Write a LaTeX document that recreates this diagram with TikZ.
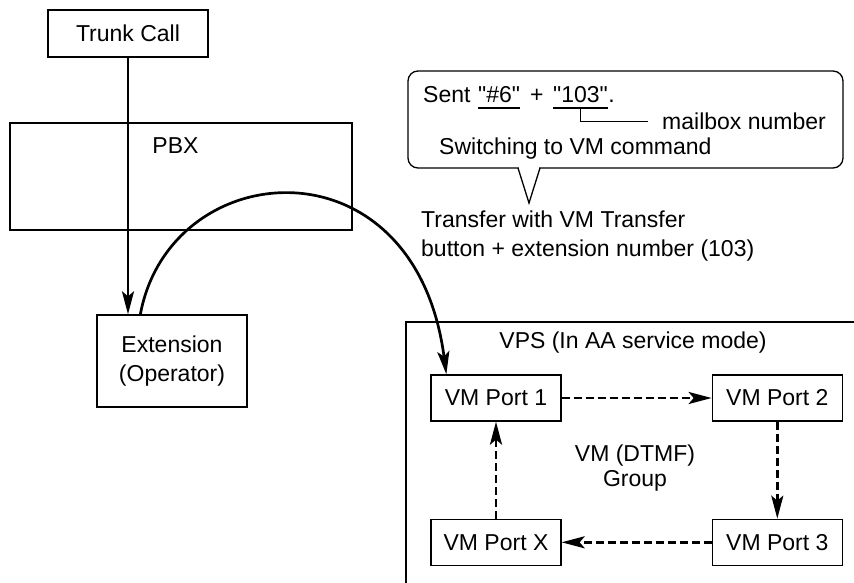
\documentclass[tikz,border=0pt]{standalone}
\usepackage{fontspec}
\setmainfont{Liberation Sans}
\usetikzlibrary{arrows.meta, positioning, calc}

\begin{document}
\begin{tikzpicture}[x=1pt, y=-1pt, font=\fontsize{23}{29}\selectfont,
        >={Stealth[length=23pt, width=12pt, inset=5pt]},
        box/.style={draw, line width=1.3pt, minimum width=130pt, minimum height=46pt,
            inner sep=0pt, align=center},
        lbl/.style={inner sep=0pt},
        txt/.style={inner sep=0pt, anchor=base west},
        thin/.style={line width=1.3pt},
        flow/.style={->, line width=2.7pt},
        ring/.style={->, line width=2.7pt, dash pattern=on 8pt off 4pt}]
    \useasboundingbox (0,0) rectangle (854,583);
    \clip (0,0) rectangle (854,583);

    % call path on the PBX side
    \node[box, minimum width=160pt, minimum height=47pt] (trunk) at (128,33.5) {Trunk Call};
    \node[box, minimum width=342pt, minimum height=107pt] (pbx) at (181,176.5) {};
    \node[lbl] (pbxlbl) at (175.5,146) {PBX};
    \node[box, minimum width=150pt, minimum height=92pt] (ext) at (172,361) {Extension\\(Operator)};

    % VPS frame and its ports
    \draw[thin] (406,600) |- (870,322);
    \node[lbl] (vps) at (633,343) {VPS (In AA service mode)};
    \node[box] (vm1) at (496,398) {VM Port 1};
    \node[box, right=150pt of vm1] (vm2) {VM Port 2};
    \node[box, below=97pt of vm2] (vm3) {VM Port 3};
    \node[box, below=97pt of vm1] (vmx) {VM Port X};
    \node[lbl, align=center] (grp) at (635,468) {VM (DTMF)\\[-4pt]Group};

    % callout
    \draw[thin, rounded corners=10pt] (408,71) rectangle (843,168);
    \fill[white] (518.7,165) rectangle (539.3,171);
    \coordinate (tip) at (529,203);
    \draw[thin] (518,168) -- (tip) -- (540,168);
    \node[txt] (sent) at (423,103) {Sent};
    \node[txt] (cmd) at (478,103) {\textquotedbl\#6\textquotedbl};
    \node[txt] (plus) at (530,103) {+};
    \node[txt] (mbx) at (553,103) {\textquotedbl103\textquotedbl};
    \node[txt] (stop) at (mbx.base east) {.};
    \node[txt] (mbox) at (662,130) {mailbox number};
    \node[txt] (sw) at (439,155) {Switching to VM command};
    \node[lbl, anchor=north west, align=left] (xfer) at (421,211)
        {Transfer with VM Transfer\\button + extension number (103)};

    \coordinate (cmdL) at ($(cmd.base west)+(0,5)$);
    \coordinate (cmdR) at ($(cmd.base east)+(0,5)$);
    \coordinate (mbxL) at ($(mbx.base west)+(0,5)$);
    \coordinate (mbxR) at ($(mbx.base east)+(0,5)$);
    \draw[thin] (cmdL) -- (cmdR);
    \draw[thin] (mbxL) -- (mbxR);
    \draw[thin] ($(cmdL)!0.5!(cmdR)$) -- ($(cmdL)!0.5!(cmdR)$ |- sw.north);
    \draw[thin] ($(mbxL)!0.5!(mbxR)$) |- ($(mbox.west)+(-14,0)$);

    % connectors
    \draw[flow] (trunk) -- (trunk |- ext.north);
    \draw[flow] ($(ext.north west)+(44,0)$) .. controls (170,155) and (415,135) .. ($(vm1.north west)+(16,0)$);
    \draw[ring] (vm1) -- (vm2);
    \draw[ring] (vm2) -- (vm3);
    \draw[ring] (vm3) -- (vmx);
    \draw[ring] (vmx) -- (vm1);
\end{tikzpicture}
\end{document}
